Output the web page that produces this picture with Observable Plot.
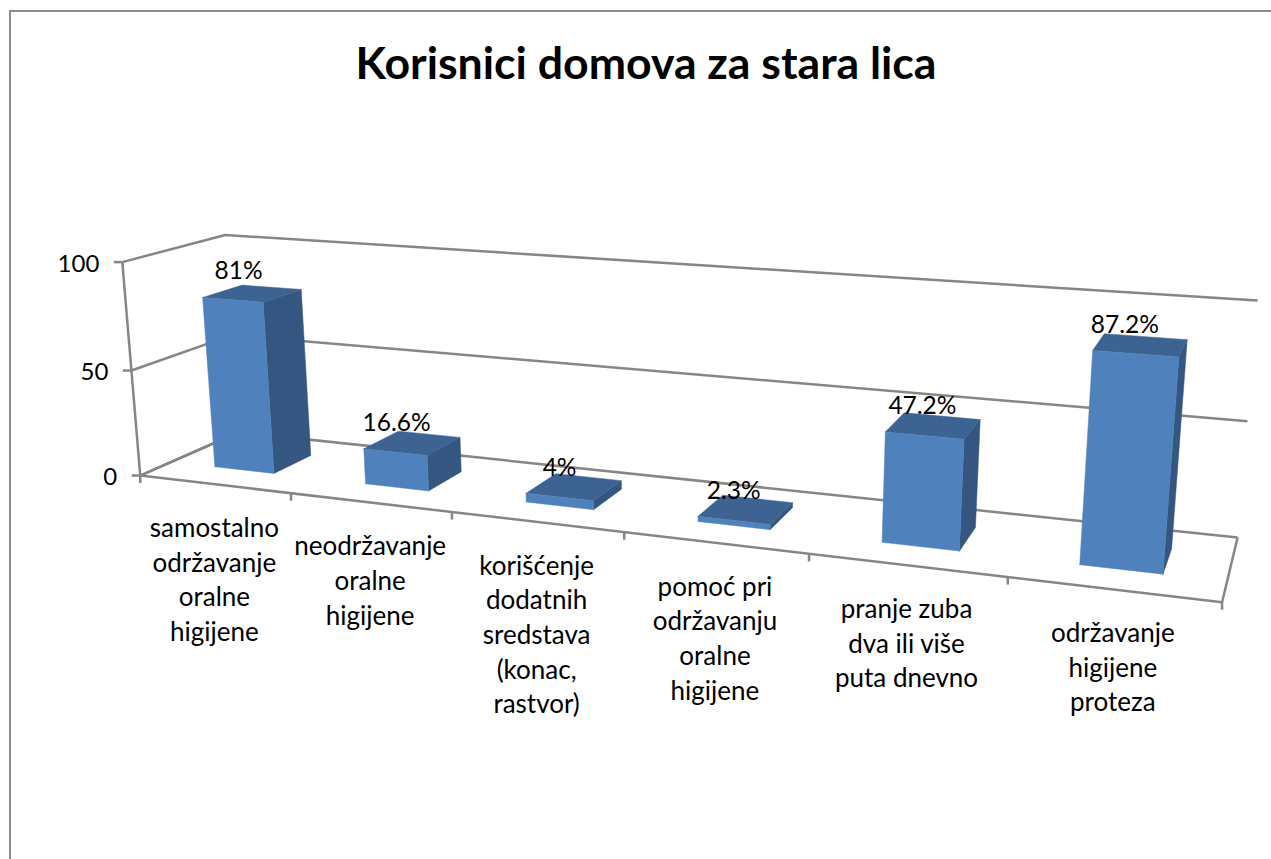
<!DOCTYPE html>
<html><head><meta charset="utf-8">
<script src="https://cdn.jsdelivr.net/npm/d3@7"></script>
<script src="https://cdn.jsdelivr.net/npm/@observablehq/plot@0.6"></script>
<style>
html,body{margin:0;padding:0;background:#fff;overflow:hidden}
#frame{position:absolute;left:9px;top:10px;width:1262px;height:849px;border-left:2px solid #8c8c8c;border-top:2px solid #8c8c8c;box-sizing:border-box}
#title{position:absolute;left:0;top:0;width:1292px;height:110px;text-align:center;font:700 44.6px/124px Lato,sans-serif;color:#000}
#chart{position:absolute;left:0;top:0}
</style></head><body>
<div id="frame"></div>
<div id="chart"></div>
<div id="title">Korisnici domova za stara lica</div>
<script>
const categories = [
  "samostalno\nodržavanje\noralne\nhigijene",
  "neodržavanje\noralne\nhigijene",
  "korišćenje\ndodatnih\nsredstava\n(konac,\nrastvor)",
  "pomoć pri\nodržavanju\noralne\nhigijene",
  "pranje zuba\ndva ili više\nputa dnevno",
  "održavanje\nhigijene\nproteza"
];
const values = [81, 16.6, 4, 2.3, 47.2, 87.2];
const valueLabels = ["81%", "16.6%", "4%", "2.3%", "47.2%", "87.2%"];
const axisTicks = [0, 50, 100];
const colors = {front: "#4f81bd", side: "#345680", top: "#3d6392", grid: "#868686"};

// Camera of the 3D chart: (category, value, depth) -> page position, fitted to the chart box corners.
const pins = [
  [0,0,0,140,475],[6,0,0,1222,602],[0,100,0,122,262],[0,50,0,130,370],
  [0,0,1,238,432],[6,0,1,1237,537],[0,100,1,225,234],[6,100,1,1257,300],[6,50,1,1247,421],
  [1,0,0,291,493],[2,0,0,452,511],[3,0,0,623,532],[5,0,0,1007,576]
];
function fitCamera(pts) {
  const rows = [], rhs = [];
  for (const [u,v,d,x,y] of pts) {
    rows.push([u,v,d,1,0,0,0,0,-x*u,-x*v,-x*d]); rhs.push(x);
    rows.push([0,0,0,0,u,v,d,1,-y*u,-y*v,-y*d]); rhs.push(y);
  }
  const n = 11;
  // scale columns so the normal equations stay well conditioned
  const s = Array.from({length:n},(_,j)=>Math.max(...rows.map(r=>Math.abs(r[j])))||1);
  const A = Array.from({length:n},(_,i)=>Array.from({length:n+1},(_,j)=>{
    let t=0;
    rows.forEach((r,k)=>{t+= (r[i]/s[i])*(j<n? r[j]/s[j] : rhs[k]);});
    return t;
  }));
  for (let i=0;i<n;i++){
    let m=i; for(let k=i+1;k<n;k++) if(Math.abs(A[k][i])>Math.abs(A[m][i])) m=k;
    [A[i],A[m]]=[A[m],A[i]];
    for(let k=0;k<n;k++){ if(k===i) continue; const f=A[k][i]/A[i][i]; for(let j=i;j<=n;j++) A[k][j]-=f*A[i][j]; }
  }
  return A.map((r,i)=>r[n]/r[i]/s[i]);
}
const c = fitCamera(pins);
function P(u,v,d){
  const w = c[8]*u+c[9]*v+c[10]*d+1;
  return {x:(c[0]*u+c[1]*v+c[2]*d+c[3])/w, y:(c[4]*u+c[5]*v+c[6]*d+c[7])/w};
}
const pathOf = arr => arr.map(a => P(...a));

const wall = [];
for (const v of axisTicks) wall.push(pathOf([[0,v,0],[0,v,1],[6,v,1]]));
const floor = pathOf([[0,0,0],[6,0,0],[6,0,1]]);
const axis = pathOf([[0,0,0],[0,100,0]]);

const barW = 0.2, depthA = 0.3, depthB = 0.7;
const faces = [];
values.forEach((v,i)=>{
  const a=i+0.5-barW, b=i+0.5+barW;
  faces.push({color:colors.side, pts:pathOf([[b,0,depthA],[b,0,depthB],[b,v,depthB],[b,v,depthA],[b,0,depthA]])});
  faces.push({color:colors.top, pts:pathOf([[a,v,depthA],[b,v,depthA],[b,v,depthB],[a,v,depthB],[a,v,depthA]])});
  faces.push({color:colors.front, pts:pathOf([[a,0,depthA],[b,0,depthA],[b,v,depthA],[a,v,depthA],[a,0,depthA]])});
});

const lineStyle = {x:"x", y:"y", stroke:colors.grid, strokeWidth:2.5, strokeLinejoin:"miter", strokeLinecap:"butt"};
const font = "Lato, sans-serif";
const labelX = i => { const x = P(i+0.5,values[i],depthA).x; return x - 11*Math.pow((x-640)/500,3); };
const plot = Plot.plot({
  width:1271, height:859, margin:0,
  x:{domain:[0,1271], range:[0,1271], axis:null},
  y:{domain:[0,859], range:[0,859], axis:null},
  marks:[
    ...wall.map(w=>Plot.line(w,lineStyle)),
    Plot.line(floor,lineStyle),
    Plot.line(pathOf([[0,0,0],[0,0,1]]),lineStyle),
    Plot.line(axis,lineStyle),
    Plot.ruleY(axisTicks,{y:v=>P(0,v,0).y, x1:v=>P(0,v,0).x-8, x2:v=>P(0,v,0).x, stroke:colors.grid, strokeWidth:2.5}),
    Plot.ruleX(d3.range(7),{x:u=>P(u,0,0).x, y1:u=>P(u,0,0).y, y2:u=>P(u,0,0).y+8, stroke:colors.grid, strokeWidth:2.5}),
    ...faces.map(f=>Plot.line(f.pts,{x:"x",y:"y",fill:f.color,stroke:f.color,strokeWidth:0.5,strokeLinejoin:"miter"})),
    Plot.text(axisTicks,{x:v=>P(0,v,0).x-23, y:v=>P(0,v,0).y+2, text:v=>String(v), textAnchor:"end", fontFamily:font, fontSize:24, fill:"#000"}),
    Plot.text(categories,{x:(d,i)=>P(i+0.5,0,0).x, y:(d,i)=>P(i+0.5,0,0).y+28, text:d=>d, textAnchor:"middle", lineAnchor:"top", lineHeight:1.335, fontFamily:font, fontSize:26, fill:"#000"}),
    Plot.text(valueLabels,{x:(d,i)=>labelX(i), y:(d,i)=>P(i+0.5,values[i],depthA).y-29, text:d=>d, textAnchor:"middle", fontFamily:font, fontSize:24.5, fill:"#000"})
  ]
});
plot.style.background="transparent";
document.getElementById("chart").append(plot);
</script>
</body></html>
